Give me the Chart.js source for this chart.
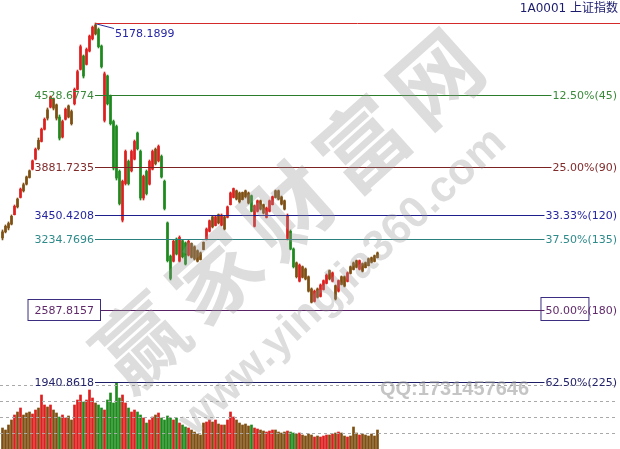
<!DOCTYPE html>
<html>
<head>
<meta charset="utf-8">
<script src="https://cdn.jsdelivr.net/npm/chart.js@4.4.1/dist/chart.umd.min.js"></script>
<style>
  html, body { margin: 0; padding: 0; background: #fff; }
  #wrap { width: 620px; height: 449px; position: relative; }
</style>
</head>
<body>
<div id="wrap"><canvas id="kline"></canvas></div>
<script>
// daily candles (price in index points)
const opens = [
  3240, 3295, 3370, 3365, 3450, 3520, 3605, 3720, 3725, 3785,
  3860, 3950, 4120, 4110, 4220, 4395, 4420, 4495, 4440, 4330,
  4150, 4310, 4430, 4380, 4450, 4580, 4760, 4880, 4805, 4925,
  5035, 5160, 5120, 4970, 4300, 4700, 4520, 4290, 4245, 3840,
  3400, 3730, 3930, 3845, 3950, 4185, 4020, 3600, 3840, 3725,
  3860, 4040, 3935, 3975, 3750, 3375, 3075, 3030, 3230, 3030,
  3215, 3195, 3085, 3190, 3160, 3125, 3045, 3135, 3225, 3300,
  3430, 3352, 3450, 3355, 3430, 3425, 3540, 3605, 3665, 3645,
  3585, 3665, 3645, 3620, 3345, 3480, 3575, 3540, 3425, 3480,
  3540, 3605, 3665, 3610, 3575, 3235, 3300, 3140, 3015, 2850,
  2980, 2960, 2890, 2780, 2668, 2780, 2712, 2775, 2830, 2945,
  2850, 2810, 2760, 2820, 2890, 2848, 2920, 2955, 3035, 2958,
  3008, 2972, 2990, 3062, 3028, 3062
];
const highs = [
  3312, 3357, 3384, 3447, 3537, 3600, 3690, 3735, 3798, 3853,
  3943, 4051, 4141, 4231, 4322, 4412, 4520, 4502, 4448, 4349,
  4303, 4412, 4439, 4394, 4592, 4754, 4980, 4890, 4953, 5070,
  5151, 5178.1899, 5133, 4980, 4736, 4709, 4529, 4303, 4258, 3853,
  3762, 4033, 3943, 4033, 4123, 4195, 4033, 3807, 3853, 3943,
  4033, 4051, 4078, 3988, 3762, 3384, 3086, 3222, 3240, 3258,
  3222, 3204, 3222, 3195, 3168, 3132, 3113, 3204, 3330, 3402,
  3438, 3438, 3456, 3456, 3438, 3528, 3654, 3690, 3672, 3654,
  3654, 3672, 3654, 3627, 3537, 3582, 3582, 3546, 3519, 3582,
  3618, 3672, 3672, 3618, 3582, 3456, 3312, 3150, 3023, 3005,
  2987, 2969, 2897, 2789, 2770, 2789, 2825, 2861, 2915, 2951,
  2933, 2816, 2861, 2897, 2897, 2933, 2987, 3023, 3041, 3041,
  3014, 3023, 3059, 3068, 3086, 3113
];
const lows = [
  3222, 3285, 3312, 3357, 3447, 3510, 3600, 3654, 3717, 3780,
  3853, 3943, 4033, 4105, 4213, 4303, 4412, 4394, 4303, 4123,
  4141, 4303, 4322, 4258, 4439, 4574, 4754, 4682, 4799, 4917,
  5025, 5070, 4953, 4772, 4285, 4439, 4258, 3853, 3762, 3537,
  3384, 3717, 3717, 3835, 3943, 4033, 3582, 3582, 3627, 3717,
  3853, 3898, 3925, 3780, 3492, 3023, 2861, 3023, 3086, 3023,
  3059, 2996, 3077, 3059, 3041, 3023, 3041, 3132, 3222, 3294,
  3330, 3348, 3366, 3348, 3312, 3420, 3537, 3600, 3582, 3555,
  3582, 3600, 3546, 3474, 3339, 3474, 3492, 3456, 3420, 3474,
  3537, 3600, 3582, 3537, 3492, 3222, 3132, 2969, 2879, 2843,
  2879, 2861, 2752, 2653, 2662, 2698, 2707, 2770, 2825, 2861,
  2843, 2680, 2752, 2816, 2798, 2843, 2915, 2951, 2969, 2951,
  2933, 2969, 2987, 3014, 3023, 3059
];
const closes = [
  3295, 3345, 3330, 3435, 3525, 3590, 3680, 3665, 3790, 3845,
  3935, 4040, 4045, 4220, 4310, 4320, 4510, 4410, 4320, 4140,
  4290, 4400, 4330, 4270, 4580, 4740, 4965, 4700, 4940, 5060,
  5140, 5080, 4965, 4785, 4720, 4450, 4270, 3870, 3780, 3550,
  3750, 4020, 3730, 4020, 4110, 4045, 3600, 3795, 3640, 3930,
  4020, 3910, 4065, 3790, 3505, 3035, 2875, 3210, 3095, 3245,
  3070, 3005, 3210, 3065, 3050, 3030, 3105, 3200, 3320, 3395,
  3340, 3430, 3375, 3445, 3320, 3520, 3645, 3685, 3590, 3565,
  3650, 3610, 3555, 3480, 3530, 3575, 3500, 3465, 3510, 3575,
  3612, 3665, 3590, 3545, 3500, 3440, 3140, 2980, 2890, 2995,
  2885, 2870, 2760, 2660, 2760, 2705, 2815, 2855, 2905, 2870,
  2925, 2690, 2855, 2890, 2805, 2925, 2980, 3015, 2975, 3035,
  2940, 3018, 3052, 3020, 3080, 3105
];
// turnover, arbitrary units
const volumes = [
  4200, 3800, 4800, 5800, 6800, 7400, 8200, 6800, 7200, 7400,
  7000, 7800, 8200, 10800, 8800, 8400, 8800, 7800, 7200, 6400,
  6800, 6200, 6600, 5800, 8800, 9800, 10800, 9400, 9800, 11800,
  10200, 9200, 8800, 8200, 7800, 9800, 11200, 9200, 13200, 10200,
  10800, 9200, 8200, 7400, 7800, 7400, 6800, 6200, 5200, 5800,
  6400, 6800, 7200, 6200, 5800, 6600, 6200, 5800, 6200, 5200,
  4800, 4400, 4200, 3800, 3400, 3000, 2800, 5200, 5400, 5800,
  5400, 5800, 5000, 4800, 4800, 5800, 7400, 6400, 5800, 5200,
  4800, 5000, 4600, 4800, 4200, 4000, 3800, 3600, 3400, 3600,
  3800, 3800, 3400, 3200, 3400, 3600, 3400, 3200, 3000, 3200,
  2800, 2600, 3000, 2800, 2400, 2600, 2400, 2600, 2800, 2800,
  3000, 3200, 3400, 3200, 2600, 2400, 2600, 4400, 3200, 2800,
  3000, 2800, 2600, 3000, 2600, 3800
];
const volumeGrid = [3200, 6400, 9600, 12800];

// retracement levels
const fibPrices = [5178.1899, 4528.6774, 3881.7235, 3450.4208, 3234.7696, 2587.8157, 1940.8618];
const fibPercents = ["", "12.50%(45)", "25.00%(90)", "33.33%(120)", "37.50%(135)", "50.00%(180)", "62.50%(225)"];
const fibBoxed = [false, false, false, false, false, true, false];
const fibLineColors = ["#d42a2a", "#2b7d2b", "#7b2222", "#1e1e8c", "#2a7f7f", "#5a2266", "#1e1e66"];
const fibTextColors = ["#2525a5", "#3a8a3a", "#802a2a", "#2525a0", "#2f8a8a", "#602a6a", "#22226a"];

const titleText = "1A0001 上证指数";

const UP = "#de1f1f";
const DOWN = "#1e8a1e";
const FLAT = "#7d4f12";

function candleColor(i) {
  const move = closes[i] - opens[i];
  if (move > 70) return UP;
  if (move < -130) return DOWN;
  return FLAT;
}
const colors = opens.map((o, i) => candleColor(i));

const overlay = {
  id: "overlay",
  afterDatasetsDraw(chart) {
    const { ctx, chartArea } = chart;
    const { x, y, yVol } = chart.scales;
    const right = chartArea.right;
    const peakIndex = highs.indexOf(Math.max(...highs));
    const peakX = Math.round(x.getPixelForValue(peakIndex));

    ctx.save();
    ctx.lineWidth = 1;

    // dashed grid of the volume panel
    ctx.strokeStyle = "#a9a9a9";
    ctx.setLineDash([3, 3]);
    volumeGrid.forEach((v) => {
      const py = Math.round(yVol.getPixelForValue(v)) + 0.5;
      ctx.beginPath();
      ctx.moveTo(0, py);
      ctx.lineTo(right - 5, py);
      ctx.stroke();
    });
    ctx.setLineDash([]);

    ctx.font = "11px 'DejaVu Sans'";
    ctx.textBaseline = "middle";

    fibPrices.forEach((price, k) => {
      const py = Math.round(y.getPixelForValue(price)) + 0.5;
      const pctText = fibPercents[k];
      const pctW = pctText ? ctx.measureText(pctText).width : 0;
      const pctLeft = right - 3 - pctW;
      let startX = peakX;
      const endX = pctText ? pctLeft - 1 : right;

      if (k === 0) {
        // peak marker
        ctx.strokeStyle = "#2a2a9a";
        ctx.beginPath();
        ctx.moveTo(peakX, py);
        ctx.lineTo(peakX + 19, py + 5);
        ctx.stroke();
        ctx.fillStyle = fibTextColors[k];
        ctx.textAlign = "left";
        ctx.fillText(price.toFixed(4), peakX + 20, py + 11);
      } else {
        const txt = price.toFixed(4);
        const w = ctx.measureText(txt).width;
        ctx.fillStyle = fibTextColors[k];
        ctx.textAlign = "right";
        ctx.fillText(txt, peakX - 1, py + 1);
        if (fibBoxed[k]) {
          startX = peakX + 6;
          ctx.strokeStyle = "#3b2d80";
          ctx.strokeRect(peakX - w - 7.5, py - 11, w + 13, 21);
          const pw = ctx.measureText(pctText.split("(")[0]).width;
          ctx.strokeRect(pctLeft - 4.5, py - 13, pw + 6, 23);
        }
      }

      ctx.strokeStyle = fibLineColors[k];
      ctx.beginPath();
      ctx.moveTo(startX, py);
      ctx.lineTo(endX, py);
      ctx.stroke();

      if (pctText) {
        ctx.fillStyle = fibTextColors[k];
        ctx.textAlign = "left";
        ctx.fillText(pctText, pctLeft, py + 1);
      }
    });

    // title
    ctx.fillStyle = "#1c1c6e";
    ctx.font = "12px 'DejaVu Sans', 'Noto Sans CJK SC'";
    ctx.textAlign = "right";
    ctx.fillText(titleText, right - 2, 9);

    // watermark
    ctx.fillStyle = "rgba(150, 150, 150, 0.32)";
    ctx.textAlign = "center";
    ctx.save();
    ctx.translate(292, 206);
    ctx.rotate(-0.73);
    ctx.font = "bold 88px 'Noto Sans CJK SC'";
    ctx.letterSpacing = "11px";
    ctx.fillText("赢家财富网", 0, 0);
    ctx.restore();
    ctx.save();
    ctx.translate(343, 282);
    ctx.rotate(-0.75);
    ctx.font = "bold 44px 'Liberation Sans'";
    ctx.fillText("www.yingjia360.com", 0, 0);
    ctx.restore();
    ctx.fillStyle = "rgba(150, 150, 150, 0.55)";
    ctx.font = "bold 20px 'Liberation Sans'";
    ctx.textAlign = "left";
    ctx.fillText("QQ:1731457646", 380, 389);

    ctx.restore();
  }
};

new Chart(document.getElementById("kline"), {
  type: "bar",
  data: {
    datasets: [
      {
        label: "volume",
        yAxisID: "yVol",
        data: volumes.map((v, i) => ({ x: i, y: v })),
        backgroundColor: colors,
        barThickness: 2,
        grouped: false
      },
      {
        label: "shadow",
        yAxisID: "y",
        data: highs.map((h, i) => ({ x: i, y: [lows[i], h] })),
        backgroundColor: colors,
        barThickness: 1,
        grouped: false
      },
      {
        label: "body",
        yAxisID: "y",
        data: opens.map((o, i) => ({ x: i, y: [o, closes[i]] })),
        backgroundColor: colors,
        barThickness: 2,
        grouped: false
      }
    ]
  },
  options: {
    responsive: true,
    maintainAspectRatio: false,
    animation: false,
    layout: { padding: 0 },
    plugins: {
      legend: { display: false },
      tooltip: { enabled: false }
    },
    scales: {
      x: { type: "linear", min: -0.833, max: 205.833, offset: false, display: false },
      y: { min: 1336.5, max: 5385.6, display: false },
      yVol: { min: 0, max: 89800, display: false }
    }
  },
  plugins: [overlay]
});
</script>
</body>
</html>
